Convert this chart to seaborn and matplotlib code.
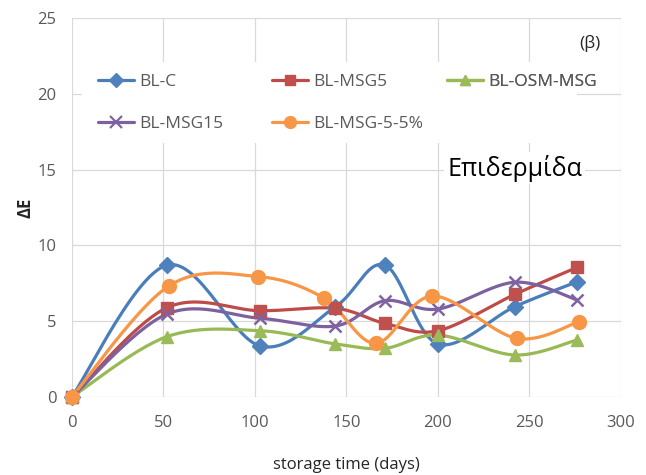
import numpy as np
import matplotlib
matplotlib.use("Agg")
import matplotlib.pyplot as plt
from matplotlib.lines import Line2D
from matplotlib.patches import Rectangle
import seaborn as sns

# Colour difference (ΔE) of the skin over storage time
days = [0, 52, 103, 144, 171, 200, 242, 276]
days_55 = [0, 53, 102, 138, 166, 197, 243, 277]

bl_c = [0, 8.7, 3.36, 5.95, 8.7, 3.5, 5.96, 7.6]
bl_msg5 = [0, 5.89, 5.69, 5.85, 4.86, 4.37, 6.77, 8.55]
bl_osm_msg = [0, 3.98, 4.37, 3.5, 3.21, 4.09, 2.77, 3.76]
bl_msg15 = [0, 5.47, 5.19, 4.68, 6.35, 5.8, 7.57, 6.4]
bl_msg_5_5 = [0, 7.32, 7.94, 6.51, 3.54, 6.66, 3.87, 4.97]

series_names = ["BL-C", "BL-MSG5", "BL-OSM-MSG", "BL-MSG15", "BL-MSG-5-5%"]
x_ticks = [0, 50, 100, 150, 200, 250, 300]
y_ticks = [0, 5, 10, 15, 20, 25]

series = [
    (series_names[0], days, bl_c, "#4A7EBB", "#4F81BD", "D", 8),
    (series_names[1], days, bl_msg5, "#BE4B48", "#C0504D", "s", 9),
    (series_names[2], days, bl_osm_msg, "#98B954", "#9BBB59", "^", 9),
    (series_names[3], days, bl_msg15, "#7D60A0", "#8064A2", "x", 9),
    (series_names[4], days_55, bl_msg_5_5, "#F79646", "#F79646", "o", 10),
]


def smooth_path(xs, ys, steps=30):
    """Cubic Bezier path through the points (spreadsheet-style smoothed line)."""
    pts = np.column_stack([xs, ys]).astype(float)
    n = len(pts)
    out = [pts[0]]
    t = np.linspace(0, 1, steps)[1:, None]
    for i in range(n - 1):
        p0 = pts[i - 1] if i > 0 else pts[i]
        p1, p2 = pts[i], pts[i + 1]
        p3 = pts[i + 2] if i + 2 < n else pts[i + 1]
        c1 = p1 + (p2 - p0) / 6.0
        c2 = p2 - (p3 - p1) / 6.0
        seg = ((1 - t) ** 3) * p1 + 3 * ((1 - t) ** 2) * t * c1 \
            + 3 * (1 - t) * (t ** 2) * c2 + (t ** 3) * p2
        out.extend(seg)
    return np.array(out)


sns.set_theme(style="white")
plt.rcParams["font.family"] = ["Open Sans", "Lato", "DejaVu Sans"]

W, H = 646, 475
fig = plt.figure(figsize=(W / 100, H / 100), dpi=100)
fig.patch.set_facecolor("white")
left, right, top, bottom = 71.7, 621.0, 18.0, 397.0
ax = fig.add_axes([left / W, 1 - bottom / H, (right - left) / W, (bottom - top) / H])

handles = []
for name, xs, ys, lc, mc, mk, ms in series:
    path = smooth_path(xs, ys)
    sns.lineplot(x=path[:, 0], y=path[:, 1], sort=False, estimator=None,
                 color=lc, linewidth=2.3, ax=ax, legend=False, zorder=3)
    if mk == "x":
        ax.plot(xs, ys, linestyle="none", marker=mk, markersize=ms,
                markeredgewidth=1.8, color=mc, zorder=4, clip_on=False)
        h = Line2D([], [], color=lc, linewidth=2.3, marker=mk, markersize=8,
                   markeredgewidth=1.6, markeredgecolor=mc)
    else:
        ax.plot(xs, ys, linestyle="none", marker=mk, markersize=ms,
                markerfacecolor=mc, markeredgecolor=mc, zorder=4, clip_on=False)
        h = Line2D([], [], color=lc, linewidth=2.3, marker=mk,
                   markersize=ms * 0.85, markerfacecolor=mc, markeredgecolor=mc)
    handles.append(h)

ax.set_xlim(0, 300)
ax.set_ylim(0, 25)
ax.set_xticks(x_ticks)
ax.set_yticks(y_ticks)
ax.set_xticklabels([str(v) for v in x_ticks])
ax.set_yticklabels([str(v) for v in y_ticks])
ax.grid(True, color="#D9D9D9", linewidth=0.9)
ax.set_axisbelow(True)
for s in ax.spines.values():
    s.set_visible(False)
ax.tick_params(axis="both", length=0, labelsize=12, labelcolor="#595959")
ax.tick_params(axis="x", pad=13)
ax.tick_params(axis="y", pad=11)

ax.set_xlabel("storage time (days)", fontsize=12, color="#262626", labelpad=19)
ax.set_ylabel("ΔE", fontsize=12, color="#262626", fontweight="bold", labelpad=2)

# white backdrop behind the legend block
ax.add_patch(Rectangle((82 / W, 1 - 143 / H), (577 - 82) / W, (143 - 62) / H,
                       transform=fig.transFigure, facecolor="white",
                       edgecolor="none", zorder=1.5))

legend_kw = dict(frameon=False, fontsize=12.5, handlelength=2.1, handletextpad=0.25,
                 borderpad=0, borderaxespad=0, labelspacing=1.5,
                 labelcolor="#595959", loc="upper left",
                 bbox_transform=fig.transFigure)
cols = [([0, 3], 98), ([1, 4], 272), ([2], 447)]
for idx, xpix in cols:
    lg = ax.legend([handles[i] for i in idx], [series_names[i] for i in idx],
                   bbox_to_anchor=(xpix / W, 1 - 74 / H), **legend_kw)
    lg.set_zorder(6)
    ax.add_artist(lg)

fig.text(590 / W, 1 - 44 / H, "(β)", fontsize=12.5, color="#262626",
         ha="center", va="center")
fig.text(447 / W, 1 - 168 / H, "Επιδερμίδα", fontsize=18, color="black",
         ha="left", va="center",
         bbox=dict(facecolor="white", edgecolor="none", pad=2))

fig.savefig("out.png", dpi=100, facecolor="white")
